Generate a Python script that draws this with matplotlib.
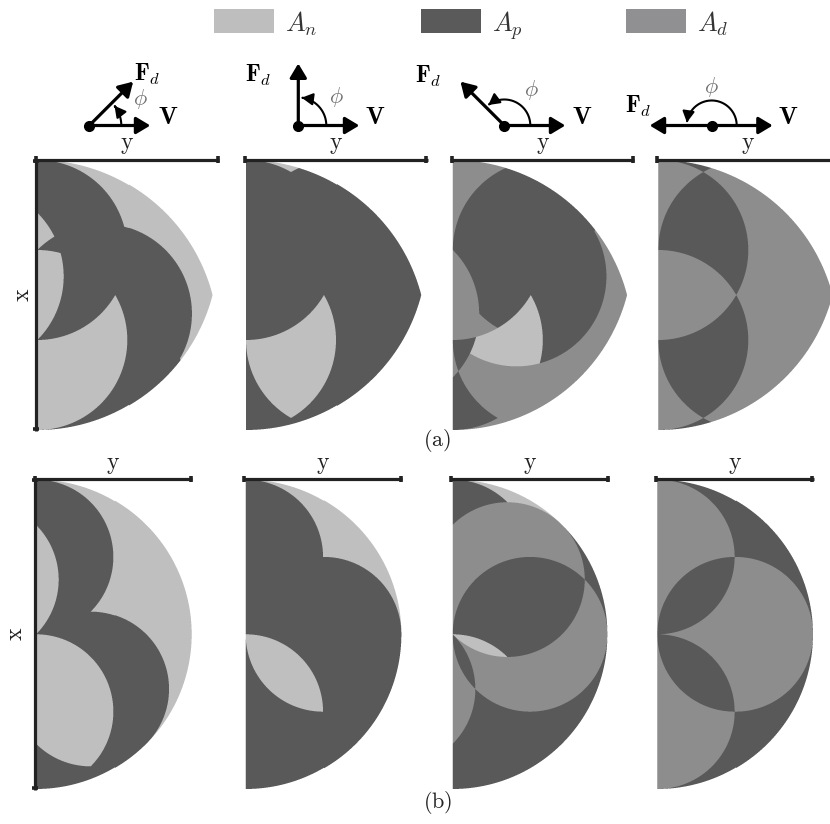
import numpy as np
import matplotlib
matplotlib.use('Agg')
import matplotlib.pyplot as plt
from matplotlib.patches import FancyArrowPatch, Rectangle
from matplotlib.path import Path

plt.rcParams['mathtext.fontset'] = 'cm'
plt.rcParams['font.family'] = ['DejaVu Serif']

# ---------------- data ----------------
PHI_DEG = [45, 90, 135, 180]                 # angle between F_d and V per column
LEGEND_KEYS = ['n', 'p', 'd']
LEGEND_LABELS = [r'$A_n$', r'$A_p$', r'$A_d$']
LEGEND_X = [214, 421, 626]
FILL = {'n': '#bfbfbf', 'p': '#5a5a5a', 'd': '#8e8e8e'}
LEGEND_FILL = {'n': '#bebebe', 'p': '#5a5a5a', 'd': '#909093'}

# row (a): lens-shaped domain, circles of radius RA
RA = 90.0
A_X0 = [37.3, 246.0, 452.8, 658.3]
A_YMID = 295.0
# circle name -> (base circle, offset angle [deg] of length RA, None = base itself)
A_CIRCLES = [
    {'B': ('B', None), 'A': ('A', None), 'D': ('B', -45), 'E': ('A', -45), 'L': ('A', 135)},
    {'B': ('B', None), 'A': ('A', None), 'C': ('B', 0), 'C2': ('A', 0)},
    {'B': ('B', None), 'A': ('A', None), 'C': ('B', 0), 'C2': ('A', 0),
     'G': ('A', 45), 'H': ('B', 45), 'K': ('B', 225)},
    {'B': ('B', None), 'A': ('A', None), 'C': ('B', 0), 'C2': ('A', 0)},
]
# (base colour, [(colour, inside-all-of, outside-all-of), ...]) painted in order
A_LAYERS = [
    ('n', [('p', ['D'], []), ('p', ['E'], []), ('n', ['A'], []), ('p', ['B'], []),
           ('n', ['L'], []), ('p', ['L', 'D'], ['A'])]),
    ('p', [('n', ['top', 'near'], ['B', 'C']), ('n', ['A', 'C2'], ['B'])]),
    ('d', [('p', ['A'], []), ('d', ['C2'], []), ('p', ['G'], []), ('d', ['B'], []),
           ('p', ['B', 'C'], []), ('p', ['H', 'C'], []), ('n', ['A', 'G'], ['B']),
           ('d', ['K'], []), ('p', ['K', 'C2'], ['B'])]),
    ('d', [('p', ['B', 'C'], []), ('p', ['A', 'C2'], []), ('d', ['A', 'B'], []),
           ('p', ['near'], ['A', 'B', 'C', 'C2'])]),
]

# row (b): half-disc domain of radius RB, circles of radius RB/2
RB = 154.7
B_X0 = [36.0, 245.7, 452.7, 657.3]
B_YMID = 634.3
# circle name -> angle [deg] of its centre (distance RB/2 from origin)
B_CIRCLES = [
    {'U': 90, 'Lo': -90, 'M2': -45, 'S': 135},
    {'U': 90, 'Lo': -90, 'M': 0},
    {'U': 90, 'Lo': -90, 'M': 0, 'P': 45, 'Q': -135},
    {'U': 90, 'Lo': -90, 'M': 0},
]
B_LAYERS = [
    ('p', [('n', ['adiag'], ['U', 'M2', 'Lo']), ('n', ['Lo', 'M2'], []), ('n', ['S'], [])]),
    ('p', [('n', ['top'], ['U', 'M']), ('n', ['Lo', 'M'], [])]),
    ('p', [('n', ['diag'], ['U', 'P', 'M', 'Lo']), ('d', ['P'], []), ('d', ['M'], []),
           ('p', ['P', 'M'], []), ('n', ['P', 'M', 'Lo'], []), ('d', ['Q'], []),
           ('p', ['Q', 'M'], [])]),
    ('p', [('d', ['U'], []), ('d', ['M'], []), ('d', ['Lo'], []),
           ('p', ['U', 'M'], []), ('p', ['Lo', 'M'], [])]),
]

# vector sketches
ARROW_OX = [89.3, 298.3, 504.3, 711.7]
ARROW_OY = 125.5
V_LEN = 61.0
F_LEN = 62.0
ARC_R = [32, 28, 26, 25]
F_LABEL_POS = [(134, 81), (245, 82), (415, 83), (625, 113)]
V_LABEL_X = [158, 365, 572, 778]
PHI_LABEL_POS = [(140, 99), (336, 97), (531, 90), (711, 87)]

AXIS_COLOR = '#222222'

# --------------- helpers ---------------
CODE = {k: i for i, k in enumerate(LEGEND_KEYS)}
PAL = np.array([matplotlib.colors.to_rgb(FILL[k]) for k in LEGEND_KEYS])


def render_panel(ax, kind, x0, ymid, centers, r, base, layers, ss=4):
    if kind == 'a':
        umax, vmax = 2 * RA, 1.5 * RA
    else:
        umax, vmax = RB, RB
    xa = int(np.floor(x0)) - 1
    xb = int(np.ceil(x0 + umax)) + 2
    ya = int(np.floor(ymid - vmax)) - 1
    yb = int(np.ceil(ymid + vmax)) + 2
    W, H = xb - xa, yb - ya
    xs = xa + (np.arange(W * ss) + 0.5) / ss
    ys = ya + (np.arange(H * ss) + 0.5) / ss
    X, Y = np.meshgrid(xs, ys)
    U = X - x0
    V = ymid - Y
    if kind == 'a':
        inside = (U >= 0) & (U ** 2 + (V - RA / 2) ** 2 <= (2 * RA) ** 2) & \
                 (U ** 2 + (V + RA / 2) ** 2 <= (2 * RA) ** 2)
    else:
        inside = (U >= 0) & (U ** 2 + V ** 2 <= RB ** 2)
    masks = {n: (U - cu) ** 2 + (V - cv) ** 2 <= r ** 2 for n, (cu, cv) in centers.items()}
    masks['top'] = V > 0
    masks['near'] = U < RA
    masks['diag'] = V > U
    masks['adiag'] = V > -U
    lab = np.full(U.shape, CODE[base], dtype=int)
    for col, inc, exc in layers:
        m = np.ones(U.shape, dtype=bool)
        for n in inc:
            m &= masks[n]
        for n in exc:
            m &= ~masks[n]
        lab[m] = CODE[col]
    rgb = PAL[lab]
    alpha = inside.astype(float)
    pre = rgb * alpha[..., None]
    pa = pre.reshape(H, ss, W, ss, 3).mean(axis=(1, 3))
    aa = alpha.reshape(H, ss, W, ss).mean(axis=(1, 3))
    out = np.zeros((H, W, 4))
    out[..., 3] = aa
    nz = aa > 0
    out[nz, :3] = pa[nz] / aa[nz, None]
    ax.imshow(out, extent=(xa, xb, yb, ya), interpolation='nearest',
              origin='upper', zorder=1, aspect='auto')


def a_centers(defs):
    bases = {'B': (0.0, RA / 2), 'A': (0.0, -RA / 2)}
    out = {}
    for n, (b, ang) in defs.items():
        cu, cv = bases[b]
        if ang is not None:
            cu += RA * np.cos(np.radians(ang))
            cv += RA * np.sin(np.radians(ang))
        out[n] = (cu, cv)
    return out


def b_centers(defs):
    rr = RB / 2
    return {n: (rr * np.cos(np.radians(a)), rr * np.sin(np.radians(a))) for n, a in defs.items()}


def hline_axis(ax, x1, x2, y):
    ax.plot([x1, x2], [y, y], color=AXIS_COLOR, lw=2.3, solid_capstyle='butt', zorder=3)
    for x in (x1 + 1.2, x2 - 1.2):
        ax.plot([x, x], [y - 3.2, y + 3.0], color=AXIS_COLOR, lw=2.6,
                solid_capstyle='butt', zorder=3)


def vline_axis(ax, x, y1, y2):
    ax.plot([x, x], [y1, y2], color=AXIS_COLOR, lw=2.3, solid_capstyle='butt', zorder=3)
    for y in (y1 + 1.2, y2 - 1.2):
        ax.plot([x - 3.2, x + 3.0], [y, y], color=AXIS_COLOR, lw=2.6,
                solid_capstyle='butt', zorder=3)


# --------------- figure ---------------
fig = plt.figure(figsize=(8.3, 8.24), dpi=100)
ax = fig.add_axes([0, 0, 1, 1])
ax.set_xlim(0, 830)
ax.set_ylim(824, 0)
ax.axis('off')

# legend
for k, lab, x in zip(LEGEND_KEYS, LEGEND_LABELS, LEGEND_X):
    ax.add_patch(Rectangle((x, 9.3), 59.5, 24.0, facecolor=LEGEND_FILL[k],
                           edgecolor='none', zorder=2))
    ax.text(x + 71, 31.5, lab, fontsize=19, color='#333333', va='baseline', ha='left')

# vector sketches
for i, phi in enumerate(PHI_DEG):
    ox, oy = ARROW_OX[i], ARROW_OY
    t = np.radians(phi)
    head = dict(arrowstyle='-|>,head_length=0.5,head_width=0.3', lw=2.3, color='k',
                mutation_scale=17, shrinkA=0, shrinkB=0)
    ax.annotate('', xy=(ox + V_LEN, oy), xytext=(ox, oy), arrowprops=head, zorder=4)
    ax.annotate('', xy=(ox + F_LEN * np.cos(t), oy - F_LEN * np.sin(t)), xytext=(ox, oy),
                arrowprops=head, zorder=4)
    ax.plot(ox, oy, 'o', ms=7, color='k', zorder=5)
    rho = ARC_R[i]
    ts = np.radians(np.linspace(0, phi - 7, 60))
    pts = np.column_stack([ox + rho * np.cos(ts), oy - rho * np.sin(ts)])
    arc = FancyArrowPatch(path=Path(pts), arrowstyle='-|>,head_length=0.55,head_width=0.3',
                          mutation_scale=12, lw=1.5, color='k', zorder=4)
    ax.add_patch(arc)
    fx, fy = F_LABEL_POS[i]
    ax.text(fx, fy, r'$\mathbf{F}_d$', fontsize=17, va='baseline', ha='left', color='k')
    ax.text(V_LABEL_X[i], oy - 1.5, r'$\mathbf{V}$', fontsize=18, va='baseline',
            ha='left', color='k')
    px, py = PHI_LABEL_POS[i]
    ax.text(px, py, r'$\phi$', fontsize=16, va='center', ha='center', color='#6e6e6e')

# row (a)
for i in range(4):
    x0 = A_X0[i]
    base, layers = A_LAYERS[i]
    render_panel(ax, 'a', x0, A_YMID, a_centers(A_CIRCLES[i]), RA, base, layers)
    hline_axis(ax, x0 - 2.5, x0 + 2 * RA + 1.5, A_YMID - 1.5 * RA - 0.5)
    ax.text(x0 + RA, A_YMID - 1.5 * RA - 11, r'$\mathrm{y}$', fontsize=17,
            ha='center', va='baseline', color='#222222')
vline_axis(ax, A_X0[0] - 1.2, A_YMID - 1.5 * RA - 0.5, A_YMID + 1.5 * RA + 0.5)
ax.text(22, A_YMID, r'$\mathrm{x}$', fontsize=17, rotation=90, ha='center', va='center',
        color='#222222')
ax.text(437, 440, r'$\mathrm{(a)}$', fontsize=16, ha='center', va='center', color='#222222')

# row (b)
for i in range(4):
    x0 = B_X0[i]
    base, layers = B_LAYERS[i]
    render_panel(ax, 'b', x0, B_YMID, b_centers(B_CIRCLES[i]), RB / 2, base, layers)
    hline_axis(ax, x0 - 2.5, x0 + RB + 1.5, B_YMID - RB - 0.5)
    ax.text(x0 + RB / 2, B_YMID - RB - 11, r'$\mathrm{y}$', fontsize=17,
            ha='center', va='baseline', color='#222222')
vline_axis(ax, B_X0[0] - 1.2, B_YMID - RB - 0.5, B_YMID + RB + 0.5)
ax.text(15, B_YMID, r'$\mathrm{x}$', fontsize=17, rotation=90, ha='center', va='center',
        color='#222222')
ax.text(438, 803, r'$\mathrm{(b)}$', fontsize=16, ha='center', va='center', color='#222222')

ax.set_xlim(0, 830)
ax.set_ylim(824, 0)
fig.savefig('out.png', dpi=100)
